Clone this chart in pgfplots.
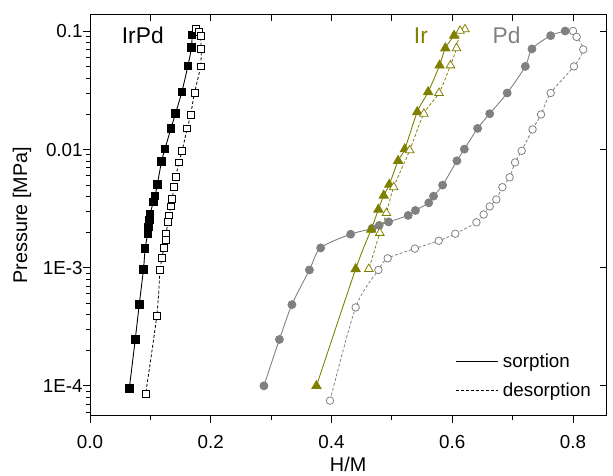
\documentclass[border=0pt]{standalone}
\usepackage{fontspec}
\setmainfont{Liberation Sans}
\usepackage{pgfplots}
\pgfplotsset{compat=1.18}
\definecolor{olivec}{RGB}{128,128,0}
\definecolor{pdgray}{RGB}{128,128,128}

\begin{document}
\begin{tikzpicture}
\begin{axis}[
  scale only axis, width=521.6pt, height=405pt,
  ymode=log, xmin=0, xmax=0.855, ymin=5.6e-5, ymax=0.138,
  xtick={0,0.2,0.4,0.6,0.8}, xticklabels={0.0,0.2,0.4,0.6,0.8},
  minor xtick={0.1,0.3,0.5,0.7},
  ytick={1e-4,1e-3,1e-2,1e-1}, yticklabels={1E-4,1E-3,0.01,0.1},
  xtick pos=left, ytick pos=left, tick align=outside,
  major tick length=7pt, minor tick length=4pt,
  tick style={black, line width=0.9pt},
  axis line style={line width=1pt},
  tick label style={font=\fontsize{19}{22}\selectfont},
  xticklabel style={yshift=-9pt},
  yticklabel style={xshift=3pt},
  xlabel={H/M}, ylabel={Pressure [MPa]},
  label style={font=\fontsize{20}{23}\selectfont},
  xlabel style={at={(axis description cs:0.5,-0.122)}, anchor=center},
  ylabel style={at={(axis description cs:-0.132,0.5)}, anchor=center},
  legend style={at={(axis description cs:0.702,0.165)}, anchor=north west,
    draw=none, fill=none, font=\fontsize{19}{22}\selectfont, row sep=10pt,
    /tikz/every odd column/.append style={column sep=3pt}},
  legend cell align=left,
  legend image code/.code={\draw[#1] (0pt,0pt) -- (42pt,0pt);},
]
% IrPd
\addplot[black, line width=0.9pt, smooth, mark=square*, mark size=3.8pt, mark options={solid}, forget plot] coordinates {
(0.065,9.5e-5) (0.0749,2.48e-4) (0.0815,4.89e-4) (0.0885,9.7e-4) (0.0913,1.45e-3)
(0.0956,1.94e-3) (0.0967,2.21e-3) (0.0984,2.53e-3) (0.0995,2.86e-3) (0.1049,3.59e-3)
(0.1077,4.03e-3) (0.1115,5.08e-3) (0.1185,7.93e-3) (0.124,1.007e-2) (0.134,1.51e-2)
(0.1415,2.01e-2) (0.152,3.07e-2) (0.162,5.08e-2) (0.168,7.29e-2) (0.169,9.3e-2)
};
\addplot[black, line width=0.8pt, smooth, dash pattern=on 3pt off 2pt, mark=square*, mark size=3.5pt,
  mark options={solid, fill=white, line width=0.8pt}, forget plot] coordinates {
(0.176,0.104) (0.181,0.099) (0.183,0.091) (0.184,0.071) (0.183,0.0505) (0.173,0.0301)
(0.1667,0.0198) (0.161,0.0151) (0.1525,0.00975) (0.147,0.00778) (0.142,0.00582)
(0.139,0.0048) (0.136,0.00382) (0.134,0.0033) (0.1306,0.00277) (0.1295,0.00244)
(0.1257,0.00194) (0.125,0.00171) (0.1218,0.00148) (0.1197,0.00122) (0.116,0.000957)
(0.1104,0.000388) (0.092,8.5e-5)
};
% Pd
\addplot[pdgray, line width=0.9pt, smooth, mark=*, mark size=4pt, mark options={solid}, forget plot] coordinates {
(0.288,1.0e-4) (0.3137,2.47e-4) (0.3344,4.87e-4) (0.3634,9.57e-4) (0.382,1.47e-3)
(0.4317,1.92e-3) (0.467,2.14e-3) (0.479,2.28e-3) (0.4945,2.44e-3) (0.527,2.77e-3)
(0.539,3.05e-3) (0.561,3.54e-3) (0.569,4.03e-3) (0.584,5.0e-3) (0.6077,8.03e-3)
(0.620,1.007e-2) (0.642,1.51e-2) (0.662,2.01e-2) (0.691,3.01e-2) (0.721,5.05e-2)
(0.732,7.1e-2) (0.763,9.2e-2) (0.787,0.1007)
};
\addplot[pdgray, line width=0.8pt, smooth, dash pattern=on 3pt off 2pt, mark=*, mark size=3.8pt,
  mark options={solid, fill=white, line width=0.8pt}, forget plot] coordinates {
(0.800,0.1007) (0.806,0.0898) (0.817,0.0703) (0.8016,0.0505) (0.763,0.0301)
(0.747,0.0198) (0.733,0.0148) (0.715,0.00975) (0.704,0.00778) (0.695,0.00582)
(0.683,0.0048) (0.673,0.00378) (0.662,0.0033) (0.652,0.00282) (0.640,0.00242)
(0.605,0.00194) (0.5776,0.00169) (0.538,0.00145) (0.493,0.0012) (0.4776,0.000957)
(0.440,0.000461) (0.3975,7.5e-5)
};
% Ir
\addplot[olivec, line width=0.9pt, smooth, mark=triangle*, mark size=5.3pt, mark options={solid}, forget plot] coordinates {
(0.375,1.0e-4) (0.440,9.75e-4) (0.4656,2.1e-3) (0.4776,3.11e-3) (0.4864,4.08e-3)
(0.4956,5.05e-3) (0.5103,8.03e-3) (0.5213,1.007e-2) (0.542,2.08e-2) (0.560,3.07e-2)
(0.579,5.15e-2) (0.5885,7.2e-2) (0.603,9.2e-2)
};
\addplot[olivec, line width=0.8pt, smooth, dash pattern=on 3pt off 2pt, mark=triangle*, mark size=5pt,
  mark options={solid, fill=white, line width=0.8pt}, forget plot] coordinates {
(0.621,0.104) (0.613,0.101) (0.607,0.072) (0.597,0.0515) (0.578,0.0301)
(0.553,0.0201) (0.5295,0.00986) (0.503,0.0048) (0.491,0.0029) (0.480,0.00197)
(0.4618,0.000975)
};
\addlegendimage{black, line width=0.9pt}
\addlegendentry{sorption}
\addlegendimage{black, line width=0.8pt, dash pattern=on 3pt off 2pt}
\addlegendentry{desorption}
\node[font=\fontsize{23}{26}\selectfont, anchor=west] at (axis cs:0.047,0.092) {IrPd};
\node[font=\fontsize{23}{26}\selectfont, text=olivec] at (axis cs:0.548,0.092) {Ir};
\node[font=\fontsize{23}{26}\selectfont, text=pdgray] at (axis cs:0.690,0.092) {Pd};
\end{axis}
% minor ticks of the left log axis
\begin{axis}[
  scale only axis, width=521.6pt, height=405pt,
  ymode=log, xmin=0, xmax=0.855, ymin=5.6e-5, ymax=0.138,
  xtick=\empty, yminorticks=false,
  ytick={6e-5,7e-5,8e-5,9e-5,2e-4,3e-4,4e-4,5e-4,6e-4,7e-4,8e-4,9e-4,
    2e-3,3e-3,4e-3,5e-3,6e-3,7e-3,8e-3,9e-3,2e-2,3e-2,4e-2,5e-2,6e-2,7e-2,8e-2,9e-2},
  yticklabels={}, ytick pos=left, tick align=outside,
  major tick length=4pt, tick style={black, line width=0.9pt},
  axis line style={draw=none},
]
\addplot[draw=none, forget plot] coordinates {(0.5,1e-3)};
\end{axis}
% inward ticks on top and right
\begin{axis}[
  scale only axis, width=521.6pt, height=405pt,
  ymode=log, xmin=0, xmax=0.855, ymin=5.6e-5, ymax=0.138,
  xtick={0,0.1,0.2,0.3,0.4,0.5,0.6,0.7,0.8}, xticklabels={},
  ytick={1e-4,1e-3,1e-2,1e-1}, yticklabels={}, yminorticks=false,
  xtick pos=right, ytick pos=right, tick align=inside,
  major tick length=6pt, tick style={black, line width=0.9pt},
  axis line style={line width=1pt},
]
\addplot[draw=none, forget plot] coordinates {(0.5,1e-3)};
\end{axis}
\path[use as bounding box] (-91pt,-58pt) rectangle (522pt,420pt);
\end{tikzpicture}
\end{document}
